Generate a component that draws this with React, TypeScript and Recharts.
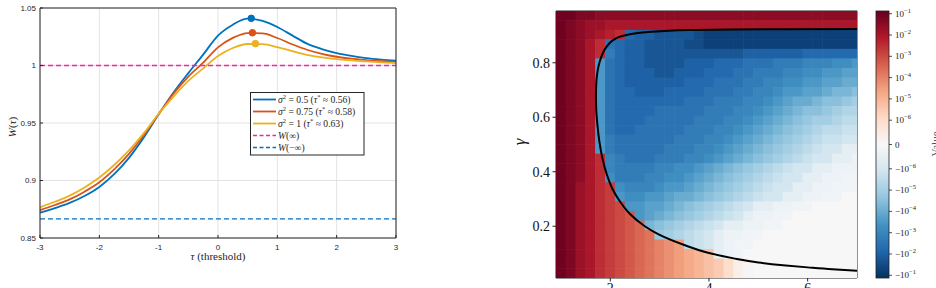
import React from 'react';
import {
  ComposedChart, Line, XAxis, YAxis, CartesianGrid, ReferenceLine, ReferenceDot, Legend,
  ScatterChart, Scatter,
} from 'recharts';

// ---------------- Left panel: W(tau) ----------------
const taus = [-3, -2.75, -2.5, -2.25, -2, -1.75, -1.5, -1.25, -1, -0.75, -0.5, -0.25, 0, 0.25, 0.5, 0.75, 1, 1.25, 1.5, 1.75, 2, 2.25, 2.5, 2.75, 3];
const wSigma05 = [0.872, 0.876, 0.8805, 0.8865, 0.8944, 0.9055, 0.9197, 0.9375, 0.9575, 0.9765, 0.9934, 1.0095, 1.026, 1.0355, 1.0407, 1.0388, 1.0335, 1.0262, 1.019, 1.0143, 1.0108, 1.0083, 1.0064, 1.0051, 1.0041];
const wSigma075 = [0.8743, 0.8787, 0.8836, 0.8903, 0.8985, 0.9097, 0.9232, 0.9395, 0.9578, 0.9755, 0.9904, 1.0025, 1.0158, 1.024, 1.0282, 1.028, 1.0239, 1.0185, 1.0137, 1.0102, 1.0076, 1.0059, 1.0047, 1.0037, 1.003];
const wSigma1 = [0.8767, 0.8815, 0.8868, 0.894, 0.9026, 0.9135, 0.9262, 0.9412, 0.958, 0.973, 0.9866, 0.9975, 1.0082, 1.0152, 1.0187, 1.0185, 1.016, 1.0125, 1.0093, 1.0071, 1.0056, 1.0044, 1.0035, 1.0027, 1.0021];
const peakTaus = [0.56, 0.58, 0.63];
const peakW = [1.041, 1.0285, 1.019];
const W_POS_INF = 1;
const W_NEG_INF = 0.8667;
const xTicksL = [-3, -2, -1, 0, 1, 2, 3];
const yTicksL = [0.85, 0.9, 0.95, 1, 1.05];
const sigmaLabels = ['0.5', '0.75', '1'];
const tauStarLabels = ['0.56', '0.58', '0.63'];

// ---------------- Right panel: heatmap ----------------
const heatCols = [1.0, 1.2, 1.4, 1.6, 1.8, 2.0, 2.2, 2.4, 2.6, 2.8, 3.0, 3.2, 3.4, 3.6, 3.8, 4.0, 4.2, 4.4, 4.6, 4.8, 5.0, 5.2, 5.4, 5.6, 5.8, 6.0, 6.2, 6.4, 6.6, 6.8, 7.0];
const heatRows = [0.9725, 0.9375, 0.9025, 0.8675, 0.8325, 0.7975, 0.7625, 0.7275, 0.6925, 0.6575, 0.6225, 0.5875, 0.5525, 0.5175, 0.4825, 0.4475, 0.4125, 0.3775, 0.3425, 0.3075, 0.2725, 0.2375, 0.2025, 0.1675, 0.1325, 0.0975, 0.0625, 0.0275];
// code: 'A'..'Z' = +10^(-1-0.25k), 'a'..'z' = -10^(-1-0.25k), '0' = 0
const heatCodes = [
  'AABBC CCCCC CCCCC CCCCC CCCCC CCCCC C',
  'ABCDD EEEEE EEEEE EEEEE EEEEE EEEEE E',
  'ABCDE FGfee ddddc bbbbb bbbbb bbbbb b',
  'ABCEG gfeed dddcc bbbbb bbbbb bbbbb b',
  'ABCEG hfeed ddddd dddde eeeee fffff f',
  'ABCEk gfeed dddee efffg gghhh iiijj k',
  'ABCEk gfeee ddeee fffgg hhhii jjkkl l',
  'ABCEk gfeee eeeff fgggh hiijj kkllm m',
  'ABCEk gffee effff ggghh iijkk llmnn o',
  'ABCEk gffff fffgg ghhhi ijklm mnoop q',
  'ABCEk gffff ggggg hhhii jklmn oopqr r',
  'ABCEk gfffg ggggh hhiij klmno pqqrs s',
  'ABCEk gffgg ggghh hiijk lmnop qrsst t',
  'ABCEk hgggg gghhh iijkl mnopq rsttu u',
  'ABCEk hgggg ghhhi ijklm nopqr stuuv v',
  'ABCEG ihggg hhhii jklmn opqrs tuuvv w',
  'ABCEG ihhhh iijjk lmnop qrstu uvvww w',
  'ABCEG jhhhi ijjkl mnopq rstuu vvwwx x',
  'ABDEG Hjiii jkklm nopqr stuuv vwwxx x',
  'ABDEG Hkjjk klmmn opqrs tuuvv wwxx0 0',
  'ABDEG HIkkl lmnop qrstu vvwwx x0000 0',
  'ABDEG HIJkl mnopq rstuv wwxx0 00000 0',
  'ABDEG HIJKn opqrs tuvvw wxx00 00000 0',
  'ABDEG HIJKL pqrst uvwwx x0000 00000 0',
  'ABDEG HIJKL MNOst uvwxx 00000 00000 0',
  'ABDEG HIJKL MNOPQ Rvwx0 00000 00000 0',
  'ABDEG HIJKL MNOPQ RSUWY 00000 00000 0',
  'ABDEG HIJKL MNOPQ RSUWY 00000 00000 0',
];
const contourX = [7.0, 6.5, 6.0, 5.5, 5.0, 4.5, 4.0, 3.5, 3.0, 2.7, 2.4, 2.2, 2.05, 1.93, 1.84, 1.78, 1.74, 1.715, 1.71, 1.715, 1.735, 1.765, 1.8, 1.85, 1.93, 2.05, 2.2, 2.4, 2.7, 3.1, 3.6, 4.5, 5.5, 7.0];
const contourG = [0.037, 0.042, 0.049, 0.057, 0.067, 0.082, 0.102, 0.131, 0.168, 0.2, 0.245, 0.29, 0.335, 0.39, 0.45, 0.51, 0.57, 0.63, 0.68, 0.72, 0.76, 0.79, 0.812, 0.836, 0.86, 0.882, 0.896, 0.905, 0.912, 0.917, 0.92, 0.922, 0.923, 0.924];
const xTicksR = [2, 4, 6];
const yTicksR = [0.2, 0.4, 0.6, 0.8];
const cbarTicks = [1e-1, 1e-2, 1e-3, 1e-4, 1e-5, 1e-6, 0, -1e-6, -1e-5, -1e-4, -1e-3, -1e-2, -1e-1];

// ---------------- styling ----------------
const AX = '#262626';
const SANS = "'Liberation Sans', Arial, sans-serif";
const SERIF = "'Liberation Serif', 'Times New Roman', serif";
const BLUE = '#0072BD';
const ORANGE = '#D95319';
const YELLOW = '#EDB120';
const MAGENTA = '#F0259E';
const seriesColors = [BLUE, ORANGE, YELLOW];

const lineData = taus.map((t, i) => ({ tau: t, s05: wSigma05[i], s075: wSigma075[i], s1: wSigma1[i] }));

// colormap RdBu_r with symlog norm
const RDBU_R = ['#053061', '#2166ac', '#4393c3', '#92c5de', '#d1e5f0', '#f7f7f7', '#fddbc7', '#f4a582', '#d6604d', '#b2182b', '#67001f'];
const RGB = RDBU_R.map((h) => [parseInt(h.slice(1, 3), 16), parseInt(h.slice(3, 5), 16), parseInt(h.slice(5, 7), 16)]);
function cmap(t: number): string {
  const tt = Math.max(0, Math.min(1, t));
  const s = tt * (RGB.length - 1);
  const i = Math.min(RGB.length - 2, Math.floor(s));
  const f = s - i;
  const a = RGB[i], b = RGB[i + 1];
  return `rgb(${Math.round(a[0] + (b[0] - a[0]) * f)},${Math.round(a[1] + (b[1] - a[1]) * f)},${Math.round(a[2] + (b[2] - a[2]) * f)})`;
}
const LINTHRESH = 1e-6;
const LIN_HALF = 24.3 / 267;
const DECADE = 21.3 / 267;
function norm(v: number): number {
  const a = Math.abs(v);
  if (a === 0) return 0.5;
  let p = a < LINTHRESH ? (a / LINTHRESH) * LIN_HALF : LIN_HALF + (Math.log10(a) + 6) * DECADE;
  p = Math.min(p, 0.5);
  return 0.5 + Math.sign(v) * p;
}
function decodeCell(ch: string): number {
  if (ch === '0') return 0;
  const up = ch >= 'A' && ch <= 'Z';
  const k = ch.charCodeAt(0) - (up ? 65 : 97);
  const mag = Math.pow(10, -1 - k * 0.25);
  return up ? mag : -mag;
}

const heatCells: { x: number; y: number; v: number }[] = [];
heatRows.forEach((g, r) => {
  const row = heatCodes[r].replace(/ /g, '');
  heatCols.forEach((x, c) => {
    if (c < row.length) heatCells.push({ x, y: g, v: decodeCell(row[c]) });
  });
});
const contourPts = contourX.map((x, i) => ({ x, y: contourG[i] }));

// heatmap geometry (chart-local px)
const HM = { left: 56, top: 11, width: 301, height: 267, x0: 0.9, x1: 7.0, y0: 0.01, y1: 0.99 };
const CELL_W = (0.2 / (HM.x1 - HM.x0)) * HM.width;
const CELL_H = (0.035 / (HM.y1 - HM.y0)) * HM.height;

const HeatCell = (props: any) => {
  const { cx, cy, payload } = props;
  if (cx == null || cy == null) return <g />;
  const l = Math.max(HM.left, cx - CELL_W / 2 - 0.3);
  const r = Math.min(HM.left + HM.width, cx + CELL_W / 2 + 0.3);
  const t = Math.max(HM.top, cy - CELL_H / 2 - 0.3);
  const b = Math.min(HM.top + HM.height, cy + CELL_H / 2 + 0.3);
  return <rect x={l} y={t} width={r - l} height={b - t} fill={cmap(norm(payload.v))} />;
};

const XLabelL = () => (
  <text x={218} y={260} textAnchor="middle" fontFamily={SERIF} fontSize={11} fill={AX}>
    <tspan fontStyle="italic">τ</tspan> (threshold)
  </text>
);
const YLabelL = () => (
  <text x={15.5} y={127} transform="rotate(-90 15.5 127)" textAnchor="middle" fontFamily={SERIF} fontSize={11} fill={AX}>
    <tspan fontStyle="italic">W</tspan>(<tspan fontStyle="italic">τ</tspan>)
  </text>
);
const YLabelR = () => (
  <text x={25} y={142} transform="rotate(-90 25 142)" textAnchor="middle" fontFamily={SERIF} fontSize={17} fontStyle="italic" fill="#111">
    γ
  </text>
);

const LegendBoxL = () => {
  const rowsY = [99.5, 111.5, 123.5, 135.5, 147.5].map((y) => y - 92);
  return (
    <svg width={115} height={64} style={{ display: 'block' }}>
      <rect x={0.5} y={0.5} width={113.5} height={62.5} fill="#fff" stroke={AX} strokeWidth={1} />
      {sigmaLabels.map((s, i) => (
        <g key={s}>
          <line x1={3} x2={26} y1={rowsY[i]} y2={rowsY[i]} stroke={seriesColors[i]} strokeWidth={1.8} />
          <text x={28} y={rowsY[i] + 3.2} fontFamily={SERIF} fontSize={9.6} fill={AX}>
            <tspan fontStyle="italic">σ</tspan>
            <tspan dy={-3.6} fontSize={6.5}>2</tspan>
            <tspan dy={3.6}>{` = ${s} (`}</tspan>
            <tspan fontStyle="italic">τ</tspan>
            <tspan dy={-3.6} fontSize={6.5}>*</tspan>
            <tspan dy={3.6}>{` ≈ ${tauStarLabels[i]})`}</tspan>
          </text>
        </g>
      ))}
      <line x1={3} x2={26} y1={rowsY[3]} y2={rowsY[3]} stroke={MAGENTA} strokeWidth={1.4} strokeDasharray="4 2.5" />
      <text x={28} y={rowsY[3] + 3.2} fontFamily={SERIF} fontSize={9.6} fill={AX}>
        <tspan fontStyle="italic">W</tspan>(∞)
      </text>
      <line x1={3} x2={26} y1={rowsY[4]} y2={rowsY[4]} stroke={BLUE} strokeWidth={1.4} strokeDasharray="4 2.5" />
      <text x={28} y={rowsY[4] + 3.2} fontFamily={SERIF} fontSize={9.6} fill={AX}>
        <tspan fontStyle="italic">W</tspan>(−∞)
      </text>
    </svg>
  );
};

const Colorbar = () => {
  const x = 16, y = 11, w = 13, h = 267;
  const stops = RDBU_R.map((c, i) => ({ off: i / (RDBU_R.length - 1), c }));
  return (
    <svg width={76} height={288} style={{ position: 'absolute', left: 860, top: 0 }}>
      <defs>
        <linearGradient id="cbgrad" x1="0" y1="1" x2="0" y2="0">
          {stops.map((s) => (
            <stop key={s.off} offset={s.off} stopColor={s.c} />
          ))}
        </linearGradient>
      </defs>
      <rect x={x} y={y} width={w} height={h} fill="url(#cbgrad)" stroke="#222" strokeWidth={0.8} />
      {cbarTicks.map((v) => {
        const ty = y + (1 - norm(v)) * h;
        const k = v === 0 ? 0 : Math.round(-Math.log10(Math.abs(v)));
        return (
          <g key={String(v)}>
            <line x1={x + w} x2={x + w + 3} y1={ty} y2={ty} stroke="#222" strokeWidth={0.8} />
            <text x={x + w + 6} y={ty + 3} fontFamily={SERIF} fontSize={9} fill="#222">
              {v === 0 ? '0' : (
                <>
                  <tspan>{v < 0 ? '−10' : '10'}</tspan>
                  <tspan dy={-4} fontSize={6.5}>{`−${k}`}</tspan>
                </>
              )}
            </text>
          </g>
        );
      })}
      <text x={79} y={144} transform="rotate(-90 79 144)" textAnchor="middle" fontFamily={SERIF} fontSize={11} fill="#555">Value</text>
    </svg>
  );
};

export default function App() {
  return (
    <div style={{ position: 'absolute', left: 0, top: 0, width: 936, height: 288, background: '#fff', overflow: 'hidden' }}>
      <div style={{ position: 'absolute', left: 0, top: 0 }}>
        <ComposedChart width={420} height={288} data={lineData} margin={{ top: 7, right: 23, bottom: 20, left: 0 }}>
          <CartesianGrid stroke="#dcdcdc" strokeWidth={0.8} />
          <ReferenceLine y={W_NEG_INF} stroke={BLUE} strokeWidth={1.2} strokeDasharray="5 3" />
          <Line type="monotone" dataKey="s05" stroke={BLUE} strokeWidth={1.8} dot={false} isAnimationActive={false} />
          <Line type="monotone" dataKey="s075" stroke={ORANGE} strokeWidth={1.8} dot={false} isAnimationActive={false} />
          <Line type="monotone" dataKey="s1" stroke={YELLOW} strokeWidth={1.8} dot={false} isAnimationActive={false} />
          <ReferenceLine y={W_POS_INF} stroke={MAGENTA} strokeWidth={1.4} strokeDasharray="5 3" />
          {peakTaus.map((t, i) => (
            <ReferenceDot key={t} x={t} y={peakW[i]} r={3.3} fill={seriesColors[i]} stroke={seriesColors[i]} />
          ))}
          <XAxis dataKey="tau" type="number" domain={[-3, 3]} ticks={xTicksL} interval={0} height={30}
            tickSize={-3} tickMargin={9} axisLine={{ stroke: AX }} tickLine={{ stroke: AX }}
            tick={{ fill: AX, fontSize: 8, fontFamily: SANS }} label={<XLabelL />} />
          <XAxis xAxisId="top" orientation="top" type="number" domain={[-3, 3]} ticks={xTicksL} interval={0} height={1}
            tickSize={-3} axisLine={{ stroke: AX }} tickLine={{ stroke: AX }} tick={false} />
          <YAxis type="number" domain={[0.85, 1.05]} ticks={yTicksL} interval={0} width={40}
            tickSize={-3} tickMargin={7} axisLine={{ stroke: AX }} tickLine={{ stroke: AX }}
            tick={{ fill: AX, fontSize: 8, fontFamily: SANS }} label={<YLabelL />} />
          <YAxis yAxisId="right" orientation="right" type="number" domain={[0.85, 1.05]} ticks={yTicksL} interval={0} width={1}
            tickSize={-3} axisLine={{ stroke: AX }} tickLine={{ stroke: AX }} tick={false} />
          <Legend layout="horizontal" verticalAlign="middle" align="center" content={<LegendBoxL />}
            wrapperStyle={{ position: 'absolute', left: 250, top: 92, width: 115, height: 64 }} />
        </ComposedChart>
      </div>
      <div style={{ position: 'absolute', left: 500, top: 0 }}>
        <ScatterChart width={436} height={288} margin={{ top: 10, right: 78, bottom: 0, left: 0 }}>
          <Scatter data={heatCells} shape={HeatCell} isAnimationActive={false} />
          <Scatter data={contourPts} line={{ stroke: '#000', strokeWidth: 2 }} lineJointType="monotoneY"
            shape={() => <g />} isAnimationActive={false} />
          <XAxis dataKey="x" type="number" domain={[0.9, 7.0]} ticks={xTicksR} interval={0} height={10}
            tickSize={3.5} tickMargin={1.5} axisLine={{ stroke: '#222' }} tickLine={{ stroke: '#222' }}
            tick={{ fill: '#111', fontSize: 14, fontFamily: SERIF }} />
          <XAxis xAxisId="top" orientation="top" dataKey="x" type="number" domain={[0.9, 7.0]} ticks={xTicksR} height={1}
            axisLine={{ stroke: '#222' }} tickLine={false} tick={false} />
          <YAxis dataKey="y" type="number" domain={[0.01, 0.99]} ticks={yTicksR} interval={0} width={56}
            tickSize={3.5} tickMargin={2.5} axisLine={{ stroke: '#222' }} tickLine={{ stroke: '#222' }}
            tick={{ fill: '#111', fontSize: 14, fontFamily: SERIF }} label={<YLabelR />} />
          <YAxis yAxisId="right" orientation="right" dataKey="y" type="number" domain={[0.01, 0.99]} ticks={yTicksR} width={1}
            axisLine={{ stroke: '#222' }} tickLine={false} tick={false} />
        </ScatterChart>
      </div>
      <Colorbar />
    </div>
  );
}
